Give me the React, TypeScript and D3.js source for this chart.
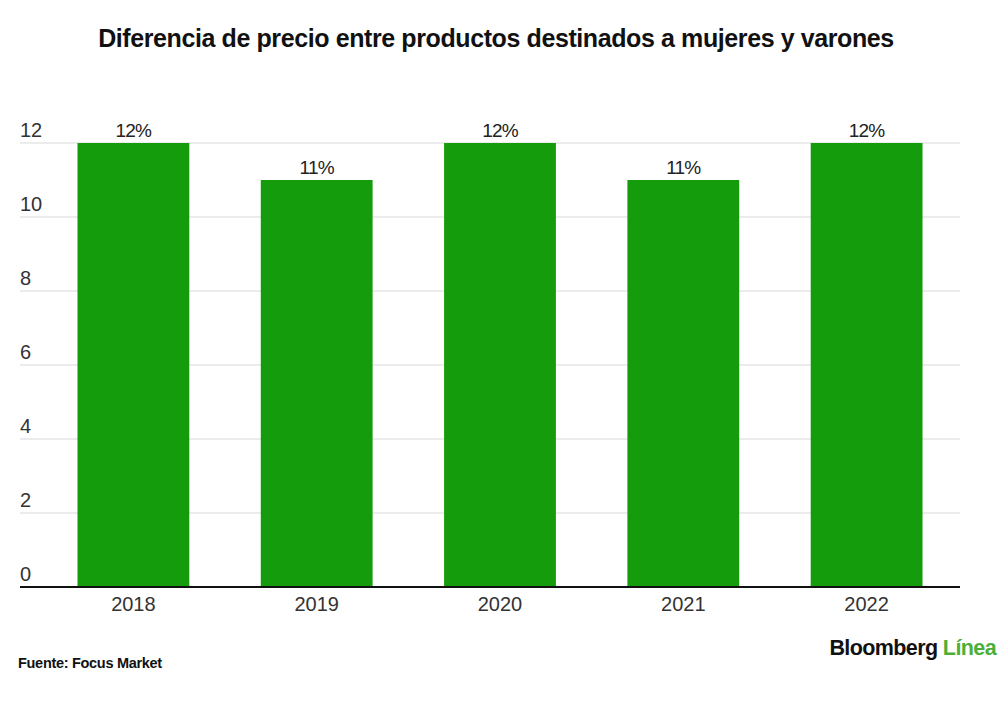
import * as d3 from "d3"

const years = ["2018", "2019", "2020", "2021", "2022"]
const values = [12, 11, 12, 11, 12]
const yTicks = [0, 2, 4, 6, 8, 10, 12]

const W = 1000
const H = 704

export default function App() {
  const x = d3.scaleBand<string>().domain(years).range([30, 970]).paddingInner(0.39).paddingOuter(0.259)
  const y = d3.scaleLinear().domain([0, 12]).range([587, 143])
  const font = "'Liberation Sans', Arial, sans-serif"

  return (
    <svg width={W} height={H} style={{ position: "absolute", left: 0, top: 0, background: "#fff" }}>
      <text x={496} y={47} textAnchor="middle" fontFamily={font} fontWeight="bold" fontSize={25} letterSpacing={-0.4} fill="#111">
        Diferencia de precio entre productos destinados a mujeres y varones
      </text>

      {yTicks.map((t) => (
        <g key={t}>
          {t > 0 && <line x1={20} x2={960} y1={y(t)} y2={y(t)} stroke="#d9d9d9" strokeWidth={1} />}
          <text x={20} y={y(t) - 6} fontFamily={font} fontSize={20} fill="#333">
            {t}
          </text>
        </g>
      ))}

      {years.map((yr, i) => (
        <g key={yr}>
          <rect x={x(yr)} y={y(values[i])} width={x.bandwidth()} height={y(0) - y(values[i])} fill="#149c0d" />
          <text x={x(yr)! + x.bandwidth() / 2} y={y(values[i]) - 6} textAnchor="middle" fontFamily={font} fontSize={19} letterSpacing={-0.8} fill="#222">
            {values[i]}%
          </text>
          <text x={x(yr)! + x.bandwidth() / 2} y={611} textAnchor="middle" fontFamily={font} fontSize={20} fill="#333">
            {yr}
          </text>
        </g>
      ))}

      <line x1={20} x2={960} y1={y(0)} y2={y(0)} stroke="#111" strokeWidth={2} />

      <text x={18} y={668} fontFamily={font} fontWeight="bold" fontSize={14.5} letterSpacing={-0.3} fill="#111">
        Fuente: Focus Market
      </text>
      <text x={996} y={655} textAnchor="end" fontFamily={font} fontWeight="bold" fontSize={21.5} letterSpacing={-0.6} fill="#111">
        Bloomberg <tspan fill="#4caf3a">Línea</tspan>
      </text>
    </svg>
  )
}
